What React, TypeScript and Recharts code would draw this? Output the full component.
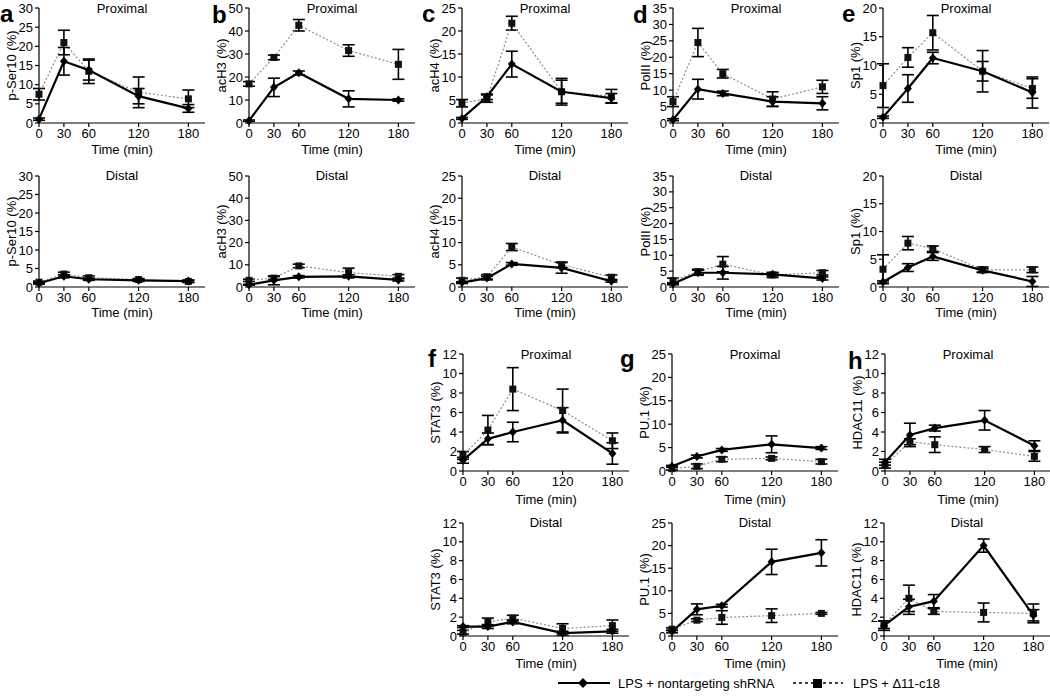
import React from 'react'
import { LineChart, Line, XAxis, YAxis, ErrorBar } from 'recharts'

const FONT = '"Liberation Sans", Arial, Helvetica, sans-serif'

// shared time axis
const times = [0, 30, 60, 120, 180]
const timeTicks = [0, 30, 60, 120, 180]

// y tick sets
const ticks30 = [0, 5, 10, 15, 20, 25, 30]
const ticks50 = [0, 10, 20, 30, 40, 50]
const ticks25 = [0, 5, 10, 15, 20, 25]
const ticks35 = [0, 5, 10, 15, 20, 25, 30, 35]
const ticks20 = [0, 5, 10, 15, 20]
const ticks12 = [0, 2, 4, 6, 8, 10, 12]

// nt = LPS + nontargeting shRNA, dl = LPS + Δ11-c18

// a  p-Ser10
const aProxNt = [1, 16.1, 13.8, 7, 3.8]
const aProxNtErr = [0.3, 3.6, 2.6, 2, 1]
const aProxDl = [7.5, 21, 13.5, 8, 6.3]
const aProxDlErr = [1.5, 3.2, 3.2, 4, 2.3]
const aDistNt = [1, 2.9, 2.1, 1.8, 1.6]
const aDistNtErr = [0.2, 0.4, 0.3, 0.3, 0.3]
const aDistDl = [1.3, 3.5, 2.5, 2, 1.5]
const aDistDlErr = [0.3, 0.5, 0.5, 0.3, 0.3]

// b  acH3
const bProxNt = [1, 15.5, 21.8, 10.5, 10]
const bProxNtErr = [0.3, 4, 0.8, 3.5, 0.5]
const bProxDl = [17, 28.5, 42.5, 31.5, 25.5]
const bProxDlErr = [1, 1, 2.5, 2.5, 6.5]
const bDistNt = [1, 3, 4.6, 4.8, 3.2]
const bDistNtErr = [0.2, 2, 0.5, 0.7, 0.5]
const bDistDl = [3, 4, 9.5, 6.5, 4.8]
const bDistDlErr = [0.5, 0.7, 0.8, 2, 0.8]

// c  acH4
const cProxNt = [1, 5.7, 12.8, 6.8, 5.4]
const cProxNtErr = [0.2, 0.6, 2.8, 2.9, 1]
const cProxDl = [4.3, 5.3, 21.7, 6.8, 5.8]
const cProxDlErr = [0.8, 0.8, 1.5, 2.5, 1.5]
const cDistNt = [1, 2, 5.2, 4.3, 1.3]
const cDistNtErr = [0.2, 0.4, 0.3, 1.2, 0.2]
const cDistDl = [1.5, 2.3, 9, 5, 2.2]
const cDistDlErr = [0.5, 0.5, 0.8, 0.6, 0.5]

// d  PolII
const dProxNt = [1, 10.3, 9, 6.5, 6]
const dProxNtErr = [0.3, 3, 0.7, 1.5, 2]
const dProxDl = [6.5, 24.5, 15, 7.3, 11]
const dProxDlErr = [1.5, 4.3, 1.3, 2.2, 2]
const dDistNt = [1, 4.5, 4.5, 4, 2.7]
const dDistNtErr = [0.3, 0.8, 2, 0.5, 0.5]
const dDistDl = [2, 4.8, 7.2, 3.8, 4.5]
const dDistDlErr = [0.8, 0.8, 2.4, 0.8, 0.7]

// e  Sp1
const eProxNt = [1, 6, 11.3, 9, 5.3]
const eProxNtErr = [0.2, 2.4, 1, 1.7, 2.7]
const eProxDl = [6.5, 11.4, 15.7, 9, 6]
const eProxDlErr = [3.8, 1.7, 3, 3.6, 1.7]
const eDistNt = [0.9, 3.5, 5.5, 3, 1]
const eDistNtErr = [0.2, 0.7, 0.7, 0.3, 0.9]
const eDistDl = [3.2, 7.9, 6.9, 3.1, 3.1]
const eDistDlErr = [2.6, 1.2, 0.5, 0.5, 0.5]

// f  STAT3
const fProxNt = [1.1, 3.3, 4, 5.2, 1.8]
const fProxNtErr = [0.3, 0.6, 1, 1.3, 1.1]
const fProxDl = [1.6, 4.2, 8.4, 6.2, 3.1]
const fProxDlErr = [0.4, 1.5, 2.2, 2.2, 0.8]
const fDistNt = [1, 1, 1.5, 0.3, 0.5]
const fDistNtErr = [0.1, 0.2, 0.2, 0.2, 0.2]
const fDistDl = [0.4, 1.5, 1.9, 0.8, 1.1]
const fDistDlErr = [0.2, 0.4, 0.3, 0.5, 0.6]

// g  PU.1
const gProxNt = [1, 3.1, 4.5, 5.7, 4.9]
const gProxNtErr = [0.2, 0.3, 0.3, 1.8, 0.3]
const gProxDl = [0.5, 1, 2.5, 2.7, 2]
const gProxDlErr = [0.3, 0.5, 0.5, 0.3, 0.5]
const gDistNt = [1, 5.9, 6.7, 16.4, 18.4]
const gDistNtErr = [0.3, 1.2, 0.3, 2.8, 2.9]
const gDistDl = [1.5, 3.5, 4.1, 4.5, 5]
const gDistDlErr = [0.3, 0.3, 1.5, 1.5, 0.2]

// h  HDAC11
const hProxNt = [0.9, 3.7, 4.4, 5.2, 2.6]
const hProxNtErr = [0.3, 1.2, 0.3, 1, 0.5]
const hProxDl = [0.6, 3, 2.7, 2.2, 1.5]
const hProxDlErr = [0.3, 0.3, 0.8, 0.3, 0.5]
const hDistNt = [1.1, 3.1, 3.7, 9.6, 2.2]
const hDistNtErr = [0.5, 0.8, 0.7, 0.7, 0.6]
const hDistDl = [1.2, 4, 2.6, 2.5, 2.4]
const hDistDlErr = [0.4, 1.4, 0.3, 1, 1]

type PanelCfg = {
  id: string
  title: string
  ylabel: string
  ticks: number[]
  axisX: number
  top: number
  bottom: number
  gap: number
  nt: number[]
  ntErr: number[]
  dl: number[]
  dlErr: number[]
}

const ROW1 = { top: 8, bottom: 123, gap: 26 }
const ROW2 = { top: 176, bottom: 287, gap: 25 }
const ROW3 = { top: 354, bottom: 471, gap: 28 }
const ROW4 = { top: 523, bottom: 636, gap: 27 }

const panels: PanelCfg[] = [
  { id: 'aP', title: 'Proximal', ylabel: 'p-Ser10 (%)', ticks: ticks30, axisX: 39, ...ROW1, nt: aProxNt, ntErr: aProxNtErr, dl: aProxDl, dlErr: aProxDlErr },
  { id: 'bP', title: 'Proximal', ylabel: 'acH3 (%)', ticks: ticks50, axisX: 249, ...ROW1, nt: bProxNt, ntErr: bProxNtErr, dl: bProxDl, dlErr: bProxDlErr },
  { id: 'cP', title: 'Proximal', ylabel: 'acH4 (%)', ticks: ticks25, axisX: 462, ...ROW1, nt: cProxNt, ntErr: cProxNtErr, dl: cProxDl, dlErr: cProxDlErr },
  { id: 'dP', title: 'Proximal', ylabel: 'PolII (%)', ticks: ticks35, axisX: 673, ...ROW1, nt: dProxNt, ntErr: dProxNtErr, dl: dProxDl, dlErr: dProxDlErr },
  { id: 'eP', title: 'Proximal', ylabel: 'Sp1 (%)', ticks: ticks20, axisX: 883, ...ROW1, nt: eProxNt, ntErr: eProxNtErr, dl: eProxDl, dlErr: eProxDlErr },
  { id: 'aD', title: 'Distal', ylabel: 'p-Ser10 (%)', ticks: ticks30, axisX: 39, ...ROW2, nt: aDistNt, ntErr: aDistNtErr, dl: aDistDl, dlErr: aDistDlErr },
  { id: 'bD', title: 'Distal', ylabel: 'acH3 (%)', ticks: ticks50, axisX: 249, ...ROW2, nt: bDistNt, ntErr: bDistNtErr, dl: bDistDl, dlErr: bDistDlErr },
  { id: 'cD', title: 'Distal', ylabel: 'acH4 (%)', ticks: ticks25, axisX: 462, ...ROW2, nt: cDistNt, ntErr: cDistNtErr, dl: cDistDl, dlErr: cDistDlErr },
  { id: 'dD', title: 'Distal', ylabel: 'PolII (%)', ticks: ticks35, axisX: 673, ...ROW2, nt: dDistNt, ntErr: dDistNtErr, dl: dDistDl, dlErr: dDistDlErr },
  { id: 'eD', title: 'Distal', ylabel: 'Sp1 (%)', ticks: ticks20, axisX: 883, ...ROW2, nt: eDistNt, ntErr: eDistNtErr, dl: eDistDl, dlErr: eDistDlErr },
  { id: 'fP', title: 'Proximal', ylabel: 'STAT3 (%)', ticks: ticks12, axisX: 463, ...ROW3, nt: fProxNt, ntErr: fProxNtErr, dl: fProxDl, dlErr: fProxDlErr },
  { id: 'gP', title: 'Proximal', ylabel: 'PU.1 (%)', ticks: ticks25, axisX: 672, ...ROW3, nt: gProxNt, ntErr: gProxNtErr, dl: gProxDl, dlErr: gProxDlErr },
  { id: 'hP', title: 'Proximal', ylabel: 'HDAC11 (%)', ticks: ticks12, axisX: 885, ...ROW3, nt: hProxNt, ntErr: hProxNtErr, dl: hProxDl, dlErr: hProxDlErr },
  { id: 'fD', title: 'Distal', ylabel: 'STAT3 (%)', ticks: ticks12, axisX: 463, ...ROW4, nt: fDistNt, ntErr: fDistNtErr, dl: fDistDl, dlErr: fDistDlErr },
  { id: 'gD', title: 'Distal', ylabel: 'PU.1 (%)', ticks: ticks25, axisX: 672, ...ROW4, nt: gDistNt, ntErr: gDistNtErr, dl: gDistDl, dlErr: gDistDlErr },
  { id: 'hD', title: 'Distal', ylabel: 'HDAC11 (%)', ticks: ticks12, axisX: 884, ...ROW4, nt: hDistNt, ntErr: hDistNtErr, dl: hDistDl, dlErr: hDistDlErr },
]

const letters = [
  { t: 'a', x: 0, y: 22 },
  { t: 'b', x: 212, y: 23 },
  { t: 'c', x: 422, y: 22 },
  { t: 'd', x: 633, y: 23 },
  { t: 'e', x: 842, y: 22 },
  { t: 'f', x: 428, y: 367 },
  { t: 'g', x: 620, y: 367 },
  { t: 'h', x: 848, y: 369 },
]

const PLOT_W = 166
const Y_W = 40
const PAD_TOP = 10
const X_H = 40

function Diamond(props: any) {
  const { cx, cy, index } = props
  if (cx == null || cy == null) return <g key={`dm${index}`} />
  return (
    <polygon
      key={`dm${index}`}
      points={`${cx},${cy - 4.5} ${cx + 4},${cy} ${cx},${cy + 4.5} ${cx - 4},${cy}`}
      fill="#000"
    />
  )
}

function Square(props: any) {
  const { cx, cy, index } = props
  if (cx == null || cy == null) return <g key={`sq${index}`} />
  return <rect key={`sq${index}`} x={cx - 3.5} y={cy - 3.5} width={7} height={7} fill="#111" />
}

function Panel({ p }: { p: PanelCfg }) {
  const plotH = p.bottom - p.top
  const width = Y_W + PLOT_W + 6
  const height = PAD_TOP + plotH + X_H
  const yMax = p.ticks[p.ticks.length - 1]
  const data = times.map((t, i) => ({
    t,
    nt: p.nt[i],
    ntErr: p.ntErr[i],
    dl: p.dl[i],
    dlErr: p.dlErr[i],
  }))
  const tickStyle = { fill: '#000', fontSize: 13, fontFamily: FONT }
  return (
    <div style={{ position: 'absolute', left: p.axisX - Y_W, top: p.top - PAD_TOP }}>
      <LineChart width={width} height={height} data={data} margin={{ top: PAD_TOP, right: 6, left: 0, bottom: 0 }}>
        <XAxis
          dataKey="t"
          type="number"
          domain={[0, 200]}
          ticks={timeTicks}
          height={X_H}
          tick={tickStyle}
          tickSize={4}
          tickMargin={2}
          axisLine={{ stroke: '#000', strokeWidth: 1.2 }}
          tickLine={{ stroke: '#000', strokeWidth: 1.2 }}
          label={{ value: 'Time (min)', position: 'insideBottom', offset: X_H - p.gap - 4.6, fill: '#000', fontSize: 13, fontFamily: FONT }}
        />
        <YAxis
          type="number"
          domain={[0, yMax]}
          ticks={p.ticks}
          width={Y_W}
          tick={tickStyle}
          tickSize={4}
          tickMargin={2}
          interval={0}
          axisLine={{ stroke: '#000', strokeWidth: 1.2 }}
          tickLine={{ stroke: '#000', strokeWidth: 1.2 }}
          label={{ value: p.ylabel, angle: -90, position: 'insideLeft', offset: 12, fill: '#000', fontSize: 13, fontFamily: FONT, style: { textAnchor: 'middle' } }}
        />
        <Line
          type="linear"
          dataKey="dl"
          stroke="#8c8c8c"
          strokeWidth={1.2}
          strokeDasharray="2 2"
          dot={Square}
          activeDot={false}
          isAnimationActive={false}
        >
          <ErrorBar dataKey="dlErr" width={6} stroke="#000" strokeWidth={1.6} direction="y" />
        </Line>
        <Line
          type="linear"
          dataKey="nt"
          stroke="#000"
          strokeWidth={2.2}
          dot={Diamond}
          activeDot={false}
          isAnimationActive={false}
        >
          <ErrorBar dataKey="ntErr" width={6} stroke="#000" strokeWidth={1.6} direction="y" />
        </Line>
      </LineChart>
    </div>
  )
}

export default function App() {
  return (
    <div
      style={{
        position: 'absolute',
        left: 0,
        top: 0,
        width: 1050,
        height: 699,
        background: '#fff',
        fontFamily: FONT,
      }}
    >
      {panels.map((p) => (
        <Panel key={p.id} p={p} />
      ))}
      <svg width={1050} height={699} style={{ position: 'absolute', left: 0, top: 0, pointerEvents: 'none' }}>
        {panels.map((p) => (
          <text
            key={`t-${p.id}`}
            x={p.axisX + PLOT_W / 2}
            y={p.top + (p.title === 'Proximal' ? 4.6 : 3.6)}
            textAnchor="middle"
            fontSize={13}
            fontFamily={FONT}
            fill="#000"
          >
            {p.title}
          </text>
        ))}
        {letters.map((l) => (
          <text key={`l-${l.t}`} x={l.x} y={l.y} fontSize={24} fontWeight="bold" fontFamily={FONT} fill="#000">
            {l.t}
          </text>
        ))}
        {/* legend */}
        <line x1={558} y1={683} x2={610} y2={683} stroke="#000" strokeWidth={2} />
        <polygon points="583,678 588,683 583,688 578,683" fill="#000" />
        <text x={618} y={688} fontSize={13} fontFamily={FONT} fill="#000">
          LPS + nontargeting shRNA
        </text>
        <line x1={793} y1={683} x2={843} y2={683} stroke="#000" strokeWidth={1.5} strokeDasharray="3 3" />
        <rect x={813} y={679} width={9} height={9} fill="#000" />
        <text x={853} y={688} fontSize={13} fontFamily={FONT} fill="#000">
          LPS + Δ11-c18
        </text>
      </svg>
    </div>
  )
}
